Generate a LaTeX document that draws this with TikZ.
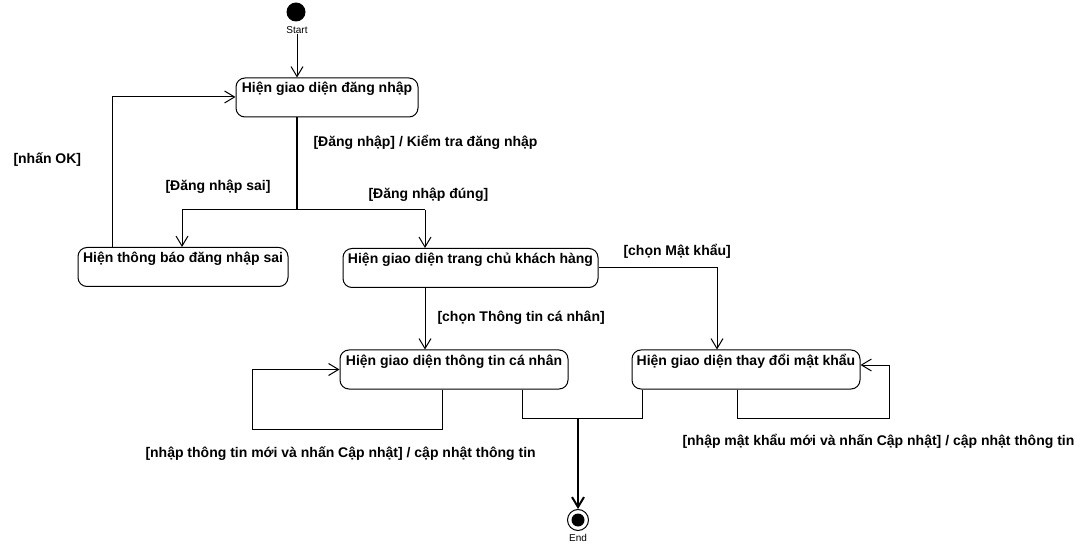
\documentclass[tikz,border=0pt]{standalone}
\usepackage{fontspec}
\setmainfont{Liberation Sans}
\usetikzlibrary{arrows.meta}
\tikzset{
  state/.style={draw, rounded corners=9pt, font=\fontsize{14}{16}\selectfont\bfseries,
    text height=11pt, text depth=20pt, inner ysep=4pt, inner xsep=0pt, minimum height=39pt},
  guard/.style={anchor=west, inner sep=0pt, text height=10pt, text depth=3pt,
    font=\fontsize{14}{16}\selectfont\bfseries},
  flow/.style={-{Straight Barb[length=10pt,width=12pt]}},
  bar/.style={line width=2pt},
  tag/.style={inner sep=0pt, font=\fontsize{10}{12}\selectfont}
}
\begin{document}
\begin{tikzpicture}[x=1pt,y=-1pt,line width=1pt]
  \useasboundingbox (0,0) rectangle (1088,548);
  \node[circle, fill, minimum size=19pt, inner sep=0pt] (start) at (296,12) {};
  \node[tag] (startlbl) at (297,30) {Start};
  \node[circle, draw, minimum size=21pt, inner sep=0pt] (end) at (578,520) {};
  \node[circle, fill, minimum size=13pt, inner sep=0pt] (endin) at (end) {};
  \node[tag] (endlbl) at (578,538) {End};

  \node[state, minimum width=182pt] (login) at (327,97.5) {Hiện giao diện đăng nhập};
  \node[state, minimum width=210pt] (error) at (183,267) {Hiện thông báo đăng nhập sai};
  \node[state, minimum width=255pt] (home) at (470.5,268) {Hiện giao diện trang chủ khách hàng};
  \node[state, minimum width=228pt] (info) at (454,369.5) {Hiện giao diện thông tin cá nhân};
  \node[state, minimum width=228pt] (pass) at (746,369.5) {Hiện giao diện thay đổi mật khẩu};

  \coordinate (fork) at (297,210);
  \coordinate (forkL) at (182,210);
  \coordinate (forkR) at (425,210);
  \coordinate (ok) at (112,97);
  \coordinate (pw) at (717,268);
  \coordinate (ilA) at (442,429);
  \coordinate (ilB) at (252,369.5);
  \coordinate (plA) at (737,418);
  \coordinate (plB) at (889,365);
  \coordinate (mL) at (522,418);
  \coordinate (mR) at (642,418);
  \coordinate (merge) at (578,418);

  \draw[flow] (startlbl.south) -- (startlbl.south |- login.north);
  \draw[bar] (fork |- login.south) -- (fork);
  \draw (forkL) -- (forkR);
  \draw[flow] (forkL) -- (forkL |- error.north);
  \draw[flow] (forkR) -- (forkR |- home.north);
  \draw[flow] (ok |- error.north) -- (ok) -- (ok -| login.west);
  \draw[flow] (forkR |- home.south) -- (forkR |- info.north);
  \draw[flow] (home.east |- pw) -- (pw) -- (pw |- pass.north);
  \draw[flow] (ilA |- info.south) -- (ilA) -| (ilB) -- (info.west);
  \draw[flow] (plA |- pass.south) -- (plA) -| (plB) -- (plB -| pass.east);
  \draw (mL |- info.south) -- (mL) -- (mR) -- (mR |- pass.south);
  \draw[bar, flow] (merge) -- (end.north);

  \node[guard] (g1) at (313,143) {[Đăng nhập] / Kiểm tra đăng nhập};
  \node[guard] (g2) at (165,187) {[Đăng nhập sai]};
  \node[guard] (g3) at (368,195) {[Đăng nhập đúng]};
  \node[guard] (g4) at (13,160) {[nhấn OK]};
  \node[guard] (g5) at (623,252) {[chọn Mật khẩu]};
  \node[guard] (g6) at (437,318) {[chọn Thông tin cá nhân]};
  \node[guard] (g7) at (145,454) {[nhập thông tin mới và nhấn Cập nhật] / cập nhật thông tin};
  \node[guard] (g8) at (682,442) {[nhập mật khẩu mới và nhấn Cập nhật] / cập nhật thông tin};
\end{tikzpicture}
\end{document}
